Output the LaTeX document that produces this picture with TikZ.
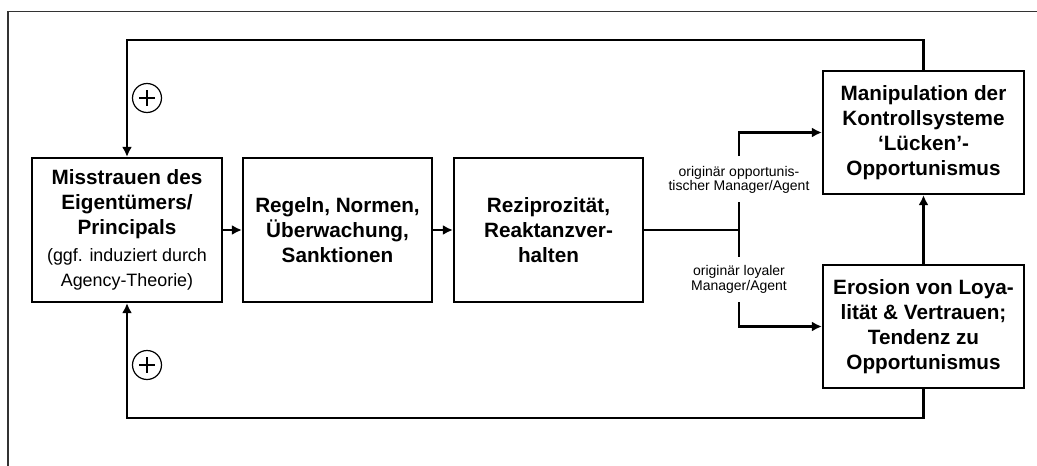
\documentclass[tikz,border=0pt]{standalone}
\usepackage{fontspec}
\setmainfont{Liberation Sans}
\usetikzlibrary{arrows.meta}
\newcommand{\smallfnt}{\fontsize{17.9}{21.7}\selectfont\mdseries}
\begin{document}
\begin{tikzpicture}[x=1pt,y=-1pt,
  box/.style={draw, line width=2.2pt, minimum width=#1, align=center, inner sep=0pt,
    font=\fontsize{20.7}{25}\selectfont\bfseries},
  conn/.style={line width=2.2pt},
  arr/.style={conn, -{Latex[length=10pt,width=10pt]}},
  lbl/.style={align=center, inner sep=0pt, font=\fontsize{14}{14.5}\selectfont},
  plus/.style={draw, circle, line width=1.2pt, minimum size=29pt, inner sep=0pt,
    path picture={\draw[line width=1.2pt] (path picture bounding box.center) +(-8,0) -- +(8,0)
      (path picture bounding box.center) +(0,-8) -- +(0,8);}}]
\useasboundingbox (0,0) rectangle (1037,466);
% outer frame
\draw[line width=1.2pt, black!80] (8,466) -- (8,11.5) -- (1037,11.5);
% boxes
\node[box=190pt, minimum height=144pt] (b1) at (127,230)
  {Misstrauen des\\Eigentümers/\\Principals\\[2pt]
   \smallfnt (ggf. induziert durch\\\smallfnt Agency-Theorie)};
\node[box=189pt, minimum height=144pt] (b2) at (337.5,230) {Regeln, Normen,\\Überwachung,\\Sanktionen};
\node[box=189pt, minimum height=144pt] (b3) at (548.5,230) {Reziprozität,\\Reaktanzver-\\halten};
\node[box=201pt, minimum height=123pt] (b4) at (923.5,132.5) {Manipulation der\\Kontrollsysteme\\‘Lücken’-\\Opportunismus};
\node[box=201pt, minimum height=123pt] (b5) at (923.5,326.5) {Erosion von Loya-\\lität \& Vertrauen;\\Tendenz zu\\Opportunismus};
% labels
\node[lbl] (l1) at (739,180) {originär opportunis-\\tischer Manager/Agent};
\node[lbl] (l2) at (739,279.5) {originär loyaler\\Manager/Agent};
% plus circles
\node[plus] (p1) at (147,98) {};
\node[plus] (p2) at (147,365) {};
% coordinates
\coordinate (j) at (739,230);
\coordinate (u1) at (739,156);
\coordinate (m1) at (739,202);
\coordinate (m2) at (739,257);
\coordinate (d1) at (739,302);
\coordinate (top) at (0,40);
\coordinate (bot) at (0,418);
% connectors
\draw[arr] (b1.east) -- (b2.west);
\draw[arr] (b2.east) -- (b3.west);
\draw[conn] (b3.east) -- (j);
\draw[conn] (m1) -- (m2);
\draw[arr] (u1) |- (b4.west);
\draw[arr] (d1) |- (b5.west);
\draw[arr] (b5.north) -- (b4.south);
\draw[arr] (b4.north) -- (b4.north |- top) -| (b1.north);
\draw[arr] (b5.south) -- (b5.south |- bot) -| (b1.south);
\end{tikzpicture}
\end{document}
